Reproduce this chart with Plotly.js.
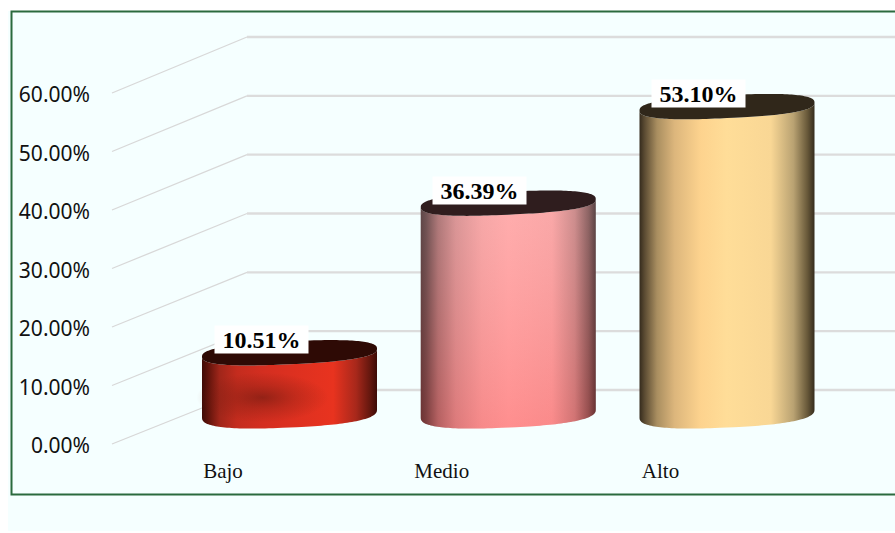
<!DOCTYPE html>
<html>
<head>
<meta charset="utf-8">
<script src="https://cdn.plot.ly/plotly-3.0.1.min.js"></script>
<style>html,body{margin:0;padding:0;background:#fff}#chart{width:895px;height:533px}</style>
</head>
<body>
<div id="chart"></div>
<script>
// Chart values
const categories = ['Bajo', 'Medio', 'Alto'];
const percentages = [10.51, 36.39, 53.10];
const yTickValues = [0, 10, 20, 30, 40, 50, 60];
const yTickLabels = ['0.00%', '10.00%', '20.00%', '30.00%', '40.00%', '50.00%', '60.00%'];

// Colours, left to right across each cylinder
const sideStops = [0, 0.03, 0.1, 0.2, 0.35, 0.5, 0.75, 0.88, 0.96, 1];
const sideColors = [
  ['#3f0b06', '#5a120a', '#a0261a', '#c42c1e', '#d42e20', '#dc3020', '#e8331f', '#a8281b', '#64170e', '#3c0b06'],
  ['#352627', '#4a3536', '#9a6667', '#d08a8b', '#f4a0a0', '#ffa6a6', '#f8a0a0', '#c07f7f', '#6e4a4a', '#302324'],
  ['#352b1d', '#5c4c33', '#a98e60', '#dcb67c', '#fdd38e', '#ffdd98', '#f9d795', '#b9a272', '#675839', '#352c1d']
];
const capColors = ['#2e0a05', '#2f1d1e', '#30271a'];

// Axis geometry, in pixels per axis unit
const pxPerX = 218.75, pxPerY = 5.85;
const px = (n) => n / pxPerX;
const py = (n) => n / pxPerY;
const plot = {l: 100, r: 0, t: 12, b: 73, w: 795, h: 448};

// Depth of the floor: how far the back wall sits from the front edge
const wallLift = py(54), wallScale = 353 / 351;
const frontX = -0.8114, backX = -0.1943, endX = 2.768;

// Cylinder proportions; rim curves are slightly squared off
const radius = 0.4, baseLift = py(30.5), rise = 0.988;
const tilt = py(4), capDepth = py(11.5), baseDepth = py(14), rimPower = 0.78;

const curve = (v) => Math.sign(v) * Math.pow(Math.abs(v), rimPower);

function arc(cx, cy, depth, from, to, n) {
  const xs = [], ys = [];
  for (let k = 0; k <= n; k++) {
    const t = from + (to - from) * k / n;
    const c = curve(Math.cos(t)), s = curve(Math.sin(t));
    xs.push(cx + radius * c);
    ys.push(cy + tilt * c + depth * s);
  }
  return [xs, ys];
}

function oval(cx, cy, rx, ry, n) {
  const xs = [], ys = [];
  for (let k = 0; k <= n; k++) {
    const t = 2 * Math.PI * k / n;
    xs.push(cx + rx * Math.cos(t));
    ys.push(cy + ry * Math.sin(t));
  }
  return [xs, ys];
}

const traces = [];

// Gridlines: a sloped run along the floor side, then the back wall
yTickValues.forEach((v) => {
  const back = v * wallScale + wallLift;
  traces.push({
    type: 'scatter', mode: 'lines', x: [frontX, backX], y: [v, back],
    line: {color: '#d8d8d8', width: 1.3}, hoverinfo: 'skip', showlegend: false
  });
  traces.push({
    type: 'scatter', mode: 'lines', x: [backX, endX], y: [back, back],
    line: {color: '#dcdcdc', width: 2.4}, hoverinfo: 'skip', showlegend: false
  });
});

// One cylinder per category
percentages.forEach((value, i) => {
  const topY = baseLift + value * rise;
  const [tx, ty] = arc(i, topY, capDepth, Math.PI, 2 * Math.PI, 80);
  const [bx, by] = arc(i, baseLift, baseDepth, 2 * Math.PI, Math.PI, 80);

  traces.push({
    type: 'scatter', mode: 'none', fill: 'toself',
    x: tx.concat(bx), y: ty.concat(by),
    fillgradient: {
      type: 'horizontal',
      colorscale: sideStops.map((s, k) => [s, sideColors[i][k]])
    },
    hoverinfo: 'skip', showlegend: false
  });

  // Soft top-to-bottom shading on the pink cylinder
  if (i === 1) {
    traces.push({
      type: 'scatter', mode: 'none', fill: 'toself',
      x: tx.concat(bx), y: ty.concat(by),
      fillgradient: {
        type: 'vertical',
        colorscale: [[0, 'rgba(255,80,80,0.28)'], [1, 'rgba(255,205,205,0.2)']]
      },
      hoverinfo: 'skip', showlegend: false
    });
  }

  // Dark sheen in the lower left of the red cylinder
  if (i === 0) {
    const [ox, oy] = oval(px(-27), baseLift + py(16), px(66), py(25), 60);
    traces.push({
      type: 'scatter', mode: 'none', fill: 'toself', x: ox, y: oy,
      fillgradient: {
        type: 'radial',
        colorscale: [[0, 'rgba(105,25,15,0.6)'], [0.5, 'rgba(120,28,16,0.28)'], [1, 'rgba(120,28,16,0)']]
      },
      hoverinfo: 'skip', showlegend: false
    });
  }

  const [cx, cy] = arc(i, topY, capDepth, 0, 2 * Math.PI, 160);
  traces.push({
    type: 'scatter', mode: 'none', fill: 'toself', x: cx, y: cy,
    fillcolor: capColors[i], hoverinfo: 'skip', showlegend: false
  });
});

// Value labels on white plates above each cylinder
const annotations = percentages.map((value, i) => ({
  x: i + px(-28.5),
  y: baseLift + value * rise + py(13),
  xref: 'x', yref: 'y',
  text: '<b>' + value.toFixed(2) + '%</b>',
  showarrow: false, xanchor: 'center', yanchor: 'middle',
  width: 93, height: 27, borderpad: 0, bgcolor: '#ffffff',
  font: {family: '"Liberation Serif", serif', size: 24, color: '#000000'}
}));

const paperX = (n) => (n - plot.l) / plot.w;
const paperY = (n) => (plot.t + plot.h - n) / plot.h;

const layout = {
  width: 895, height: 533,
  margin: {l: plot.l, r: plot.r, t: plot.t, b: plot.b, pad: 0},
  paper_bgcolor: '#ffffff',
  plot_bgcolor: 'rgba(0,0,0,0)',
  showlegend: false,
  xaxis: {
    range: [-0.8663, 2.768], showgrid: false, zeroline: false, showline: false,
    tickmode: 'array', tickvals: categories.map((c, i) => i - 0.304), ticktext: categories,
    ticks: '', tickfont: {family: '"Liberation Serif", serif', size: 21, color: '#111111'},
    ticklabelstandoff: -4, fixedrange: true
  },
  yaxis: {
    range: [py(-16), py(432)], showgrid: false, zeroline: false, showline: false,
    tickmode: 'array', tickvals: yTickValues, ticktext: yTickLabels,
    ticks: '', tickfont: {family: '"Noto Sans", sans-serif', size: 21, color: '#111111'},
    ticklabelstandoff: 9, ticklabelshift: 2, fixedrange: true
  },
  annotations: annotations,
  shapes: [
    {type: 'rect', xref: 'paper', yref: 'paper', layer: 'below',
     x0: paperX(8), x1: paperX(900), y0: paperY(531), y1: paperY(11),
     fillcolor: '#f5ffff', line: {width: 0}},
    {type: 'rect', xref: 'paper', yref: 'paper', layer: 'below',
     x0: paperX(11.5), x1: paperX(905), y0: paperY(494.5), y1: paperY(11.5),
     fillcolor: 'rgba(0,0,0,0)', line: {color: '#2b6a3e', width: 2}}
  ]
};

Plotly.newPlot('chart', traces, layout, {displayModeBar: false, staticPlot: true});
</script>
</body>
</html>
